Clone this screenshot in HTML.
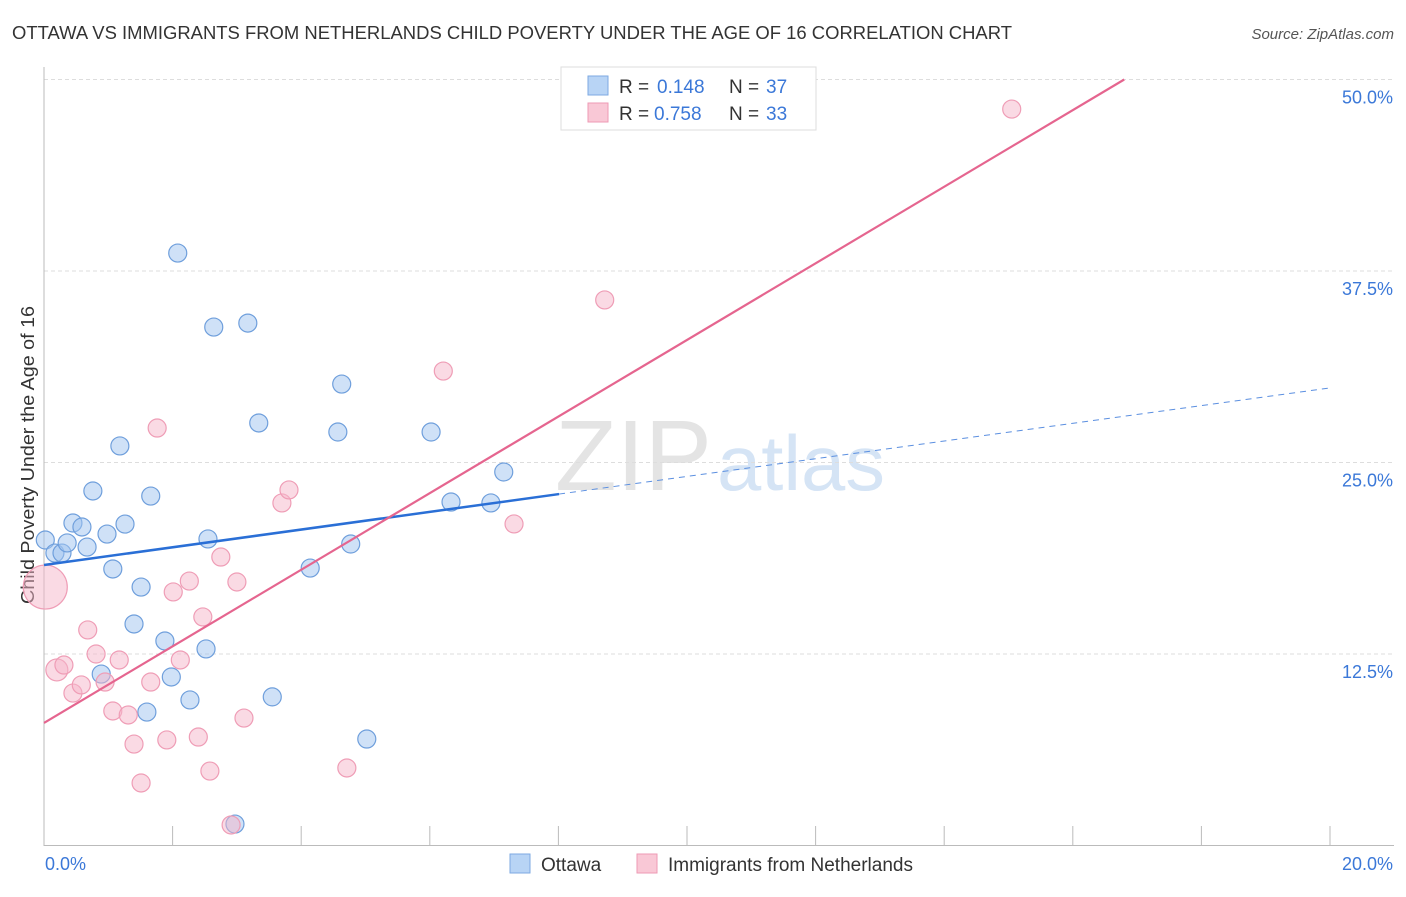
<!DOCTYPE html>
<html><head><meta charset="utf-8"><style>
body{margin:0;background:#fff;font-family:"Liberation Sans",sans-serif}
svg text{font-family:"Liberation Sans",sans-serif}
</style></head><body>
<svg id="c" width="1406" height="892">
<text x="12" y="39" font-size="18" textLength="1000" lengthAdjust="spacingAndGlyphs" fill="#333">OTTAWA VS IMMIGRANTS FROM NETHERLANDS CHILD POVERTY UNDER THE AGE OF 16 CORRELATION CHART</text>
<text x="1394" y="39" font-size="15" fill="#555" text-anchor="end" font-style="italic">Source: ZipAtlas.com</text>
<text transform="translate(34,455) rotate(-90)" font-size="18" textLength="298" lengthAdjust="spacingAndGlyphs" fill="#333" text-anchor="middle">Child Poverty Under the Age of 16</text>
<g><text x="555" y="490" font-size="100" textLength="157" lengthAdjust="spacingAndGlyphs" fill="#e4e4e4" font-family="Liberation Serif,serif">ZIP</text><text x="717" y="490" font-size="78" textLength="168" lengthAdjust="spacingAndGlyphs" fill="#d5e4f5">atlas</text></g>
<g id="grid"></g><g id="marks"></g>
<g>
<rect x="561" y="67" width="255" height="63" fill="#fff" stroke="#ddd"/>
<rect x="588" y="76" width="20" height="19" fill="#b8d4f5" stroke="#7ea9e2"/>
<text x="619" y="93" font-size="19" fill="#333">R =</text><text x="657" y="93" font-size="19" fill="#3b78d8">0.148</text>
<text x="729" y="93" font-size="19" fill="#333">N =</text><text x="766" y="93" font-size="19" fill="#3b78d8">37</text>
<rect x="588" y="103" width="20" height="19" fill="#f9c8d6" stroke="#ee9ab4"/>
<text x="619" y="120" font-size="19" fill="#333">R =</text><text x="654" y="120" font-size="19" fill="#3b78d8">0.758</text>
<text x="729" y="120" font-size="19" fill="#333">N =</text><text x="766" y="120" font-size="19" fill="#3b78d8">33</text>
</g>
<g>
<rect x="510" y="854" width="20" height="19" fill="#b8d4f5" stroke="#7ea9e2"/>
<text x="541" y="871" font-size="19" fill="#333">Ottawa</text>
<rect x="637" y="854" width="20" height="19" fill="#f9c8d6" stroke="#ee9ab4"/>
<text x="668" y="871" font-size="19" fill="#333">Immigrants from Netherlands</text>
</g>
</svg>
<script>
const yTicks=[12.5,25,37.5,50];
const yTickLabels=["12.5%","25.0%","37.5%","50.0%"];
const xTickLabels=["0.0%","20.0%"];
const ottawaX=[.02,.17,.28,.36,.45,.59,.67,.76,.98,1.07,1.18,1.26,1.40,1.51,1.66,1.88,1.98,2.08,2.27,2.52,2.55,2.64,2.97,3.17,3.34,3.55,4.14,4.57,4.63,4.77,5.02,6.02,6.33,6.95,7.15,.89,1.60];
const ottawaY=[19.94,19.09,19.09,19.75,21.05,20.79,19.48,23.14,20.33,18.05,26.08,20.98,14.46,16.87,22.81,13.35,11.00,38.67,9.50,12.83,20.01,33.84,1.40,34.10,27.58,9.70,18.11,26.99,30.12,19.68,6.95,26.99,22.42,22.36,24.38,11.19,8.71];
const nethX=[.02,.20,.31,.45,.58,.68,.81,.95,1.07,1.17,1.31,1.40,1.51,1.66,1.76,1.91,2.01,2.12,2.26,2.40,2.47,2.58,2.75,2.91,3.00,3.11,3.70,3.81,4.71,6.21,7.31,8.72,15.05];
const nethY=[16.87,11.46,11.78,9.95,10.48,14.07,12.50,10.67,8.78,12.11,8.52,6.62,4.08,10.67,27.25,6.89,16.55,12.11,17.26,7.08,14.92,4.86,18.83,1.34,17.20,8.32,22.36,23.21,5.06,30.97,20.99,35.61,48.07];
const nethR=[22,11,9,9,9,9,9,9,9,9,9,9,9,9,9,9,9,9,9,9,9,9,9,9,9,9,9,9,9,9,9,9,9];
const ottawaTrend=[18.31,0.578];
const nethTrend=[8.0,2.50];
const X=v=>44+v*64.3, Y=v=>845.5-v*15.32;
const NS="http://www.w3.org/2000/svg";
const grid=document.getElementById('grid'),marks=document.getElementById('marks');
function mk(p,tag,at){const e=document.createElementNS(NS,tag);for(const k in at)e.setAttribute(k,at[k]);p.appendChild(e);return e;}
yTicks.forEach((t,i)=>{
 const l=mk(grid,'line',{x1:44,x2:1394,y1:Y(t),y2:Y(t),stroke:'#ddd','stroke-dasharray':'4,3'});
 
 
 const tx=mk(grid,'text',{x:1393,y:Y(t)+24,'font-size':18,fill:'#3b78d8','text-anchor':'end'});
 tx.textContent=yTickLabels[i];
 
 
});
mk(grid,'line',{x1:44,x2:44,y1:67,y2:846,stroke:'#bbb'});
mk(grid,'line',{x1:44,x2:1394,y1:845.5,y2:845.5,stroke:'#bbb'});
for(let i=1;i<=10;i++){const t=mk(grid,'line',{x1:X(i*2),x2:X(i*2),y1:826,y2:845,stroke:'#bbb'});
 
 }
[[0,'start',45],[20,'end',1393]].forEach((a,i)=>{const t=mk(grid,'text',{x:a[2],y:870,'font-size':18,fill:'#3b78d8','text-anchor':a[1]});t.textContent=xTickLabels[i];
 
 });
ottawaX.forEach((x,i)=>{const c=mk(marks,'circle',{cx:X(x),cy:Y(ottawaY[i]),r:9,fill:'rgba(160,196,240,0.5)',stroke:'#6f9fdc','stroke-width':1.2});
 
 });
nethX.forEach((x,i)=>{const c=mk(marks,'circle',{cx:X(x),cy:Y(nethY[i]),r:nethR[i],fill:'rgba(246,182,202,0.5)',stroke:'#ef9db6','stroke-width':1.2});
 
 });
const b1=mk(marks,'line',{x1:X(0),y1:Y(ottawaTrend[0]),x2:X(8.01),y2:Y(ottawaTrend[0]+ottawaTrend[1]*8.01),stroke:'#2a6fd6','stroke-width':2.5});


const b2=mk(marks,'line',{x1:X(8.01),y1:Y(ottawaTrend[0]+ottawaTrend[1]*8.01),x2:X(20),y2:Y(ottawaTrend[0]+ottawaTrend[1]*20),stroke:'#5b8fe0','stroke-width':1,'stroke-dasharray':'6,5'});


const xe=(50-nethTrend[0])/nethTrend[1];
const p1=mk(marks,'line',{x1:X(0),y1:Y(nethTrend[0]),x2:X(xe),y2:Y(50),stroke:'#e5658f','stroke-width':2.2});


</script>
</body></html>
